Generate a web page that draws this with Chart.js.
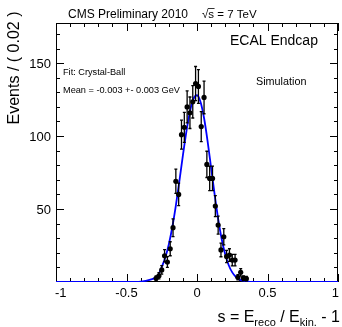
<!DOCTYPE html>
<html>
<head>
<meta charset="utf-8">
<script src="https://cdn.jsdelivr.net/npm/chart.js@4.4.1/dist/chart.umd.min.js"></script>
<style>
  html, body { margin: 0; padding: 0; background: #fff; }
  canvas { display: block; }
</style>
</head>
<body>
<canvas id="chart" width="342" height="327"></canvas>
<script>
// bin centres (bin width 0.02) and events per bin
var binCenters = [-0.29, -0.27, -0.25, -0.23, -0.21, -0.19, -0.17, -0.15, -0.13, -0.11,
                  -0.09, -0.07, -0.05, -0.03, -0.01, 0.01, 0.03, 0.05, 0.07, 0.09,
                  0.11, 0.13, 0.15, 0.17, 0.19, 0.21, 0.23, 0.25, 0.27, 0.29,
                  0.31, 0.33, 0.35];
var events = [2.5, 4.3, 8.3, 18, 13.7, 22.8, 37.2, 69, 60, 101,
              106, 120, 116, 123.5, 136, 134, 106.5, 126.5, 80.6, 71,
              71, 52, 39, 22, 31, 17.5, 18.5, 15, 15, 3.2,
              6.6, 2.6, 2.3];
var errors = [1.6, 2.1, 2.9, 4.2, 3.7, 4.8, 6.1, 8.3, 7.7, 10,
              10.3, 11, 10.8, 11.1, 11.7, 11.6, 10.3, 11.2, 9, 8.4,
              8.4, 7.2, 6.2, 4.7, 5.6, 4.2, 4.3, 3.9, 3.9, 1.8,
              2.6, 1.6, 1.5];

// crystal-ball fit curve, sampled by eye
var fitS = [-1, -0.5, -0.45, -0.425, -0.4, -0.375, -0.35, -0.325, -0.3, -0.275,
            -0.25, -0.225, -0.2, -0.175, -0.15, -0.125, -0.1, -0.075, -0.05, -0.025,
            0, 0.025, 0.05, 0.075, 0.1, 0.125, 0.15, 0.175, 0.2, 0.225,
            0.25, 0.275, 0.3, 0.325, 0.35, 0.375, 0.4, 0.45, 0.5, 1];
var fitV = [0, 0, 0, 0.1, 0.3, 0.6, 1.1, 1.8, 2.8, 5,
            10.3, 16.7, 25.8, 37.7, 52.4, 69.2, 86.8, 103.3, 116.8, 125.5,
            128, 123.4, 112.4, 96.6, 78.3, 60, 43.3, 29.5, 19, 11.5,
            6.6, 3.6, 1.8, 0.9, 0.4, 0.15, 0.05, 0, 0, 0];

var xTickLabels = ['-1', '-0.5', '0', '0.5', '1'];
var xTickValues = [-1, -0.5, 0, 0.5, 1];
var yTickLabels = ['50', '100', '150'];
var yTickValues = [50, 100, 150];

var FONT = '"Liberation Sans", Arial, Helvetica, sans-serif';

var rootStyle = {
  id: 'rootStyle',
  beforeDatasetsDraw: function(chart) {
    var ctx = chart.ctx, a = chart.chartArea;
    var xs = chart.scales.x, ys = chart.scales.y;
    ctx.save();
    ctx.strokeStyle = '#000';
    ctx.lineWidth = 1;
    ctx.strokeRect(a.left + 0.5, a.top + 0.5, a.right - a.left - 1, a.bottom - a.top - 1);
    ctx.beginPath();
    // x ticks every 0.1, long every 0.5, top and bottom, pointing inside
    for (var i = -10; i <= 10; i++) {
      var px = Math.round(xs.getPixelForValue(i / 10)) + 0.5;
      var len = (i % 5 === 0) ? 8 : 4;
      ctx.moveTo(px, a.bottom); ctx.lineTo(px, a.bottom - len);
      ctx.moveTo(px, a.top); ctx.lineTo(px, a.top + len);
    }
    // y ticks every 10, long every 50, left and right
    for (var v = 10; v < 178; v += 10) {
      var py = Math.round(ys.getPixelForValue(v)) + 0.5;
      var l = (v % 50 === 0) ? 8 : 4;
      ctx.moveTo(a.left, py); ctx.lineTo(a.left + l, py);
      ctx.moveTo(a.right, py); ctx.lineTo(a.right - l, py);
    }
    ctx.stroke();
    ctx.restore();
  },
  afterDatasetsDraw: function(chart) {
    var ctx = chart.ctx;
    var xs = chart.scales.x, ys = chart.scales.y;
    ctx.save();
    ctx.strokeStyle = '#000';
    ctx.lineWidth = 1.3;
    ctx.beginPath();
    for (var i = 0; i < binCenters.length; i++) {
      var px = xs.getPixelForValue(binCenters[i]);
      var hi = ys.getPixelForValue(events[i] + errors[i]);
      var lo = ys.getPixelForValue(Math.max(events[i] - errors[i], 0));
      ctx.moveTo(px, hi); ctx.lineTo(px, lo);
      ctx.moveTo(px - 1.5, hi); ctx.lineTo(px + 1.5, hi);
      ctx.moveTo(px - 1.5, lo); ctx.lineTo(px + 1.5, lo);
    }
    ctx.stroke();
    ctx.restore();
  },
  afterDraw: function(chart) {
    var ctx = chart.ctx, a = chart.chartArea;
    var xs = chart.scales.x, ys = chart.scales.y;
    ctx.save();
    ctx.fillStyle = '#000';
    ctx.strokeStyle = '#000';

    // tick labels
    ctx.font = '13px ' + FONT;
    ctx.textAlign = 'center';
    ctx.textBaseline = 'alphabetic';
    xTickValues.forEach(function(v, i) {
      var px = xs.getPixelForValue(v);
      var w = ctx.measureText(xTickLabels[i]).width;
      if (v === -1) px = a.left + w / 2 - 1;
      if (v === 1) px = a.right - w / 2 + 1;
      ctx.fillText(xTickLabels[i], px, 297);
    });
    ctx.textAlign = 'right';
    ctx.textBaseline = 'middle';
    yTickValues.forEach(function(v, i) {
      ctx.fillText(yTickLabels[i], 51, ys.getPixelForValue(v) + 1);
    });

    // y title
    ctx.save();
    ctx.translate(19, 68);
    ctx.rotate(-Math.PI / 2);
    ctx.font = '16px ' + FONT;
    ctx.textAlign = 'center';
    ctx.textBaseline = 'alphabetic';
    ctx.fillText('Events / ( 0.02 )', 0, 0);
    ctx.restore();

    // x title with subscripts, right aligned
    ctx.textBaseline = 'alphabetic';
    ctx.textAlign = 'left';
    var parts = [['s = E', 16, 0], ['reco', 11, 4], [' / E', 16, 0], ['kin.', 11, 4], [' - 1', 16, 0]];
    var total = 0;
    parts.forEach(function(p) { ctx.font = p[1] + 'px ' + FONT; total += ctx.measureText(p[0]).width; });
    var x = 340 - total, base = 322;
    parts.forEach(function(p) {
      ctx.font = p[1] + 'px ' + FONT;
      ctx.fillText(p[0], x, base + p[2]);
      x += ctx.measureText(p[0]).width;
    });

    // header
    ctx.font = '12px ' + FONT;
    ctx.fillText('CMS Preliminary 2010', 68, 18);
    ctx.font = '11.5px ' + FONT;
    ctx.fillText('\u221A', 202, 18);
    var rw = ctx.measureText('\u221A').width;
    ctx.fillText('s = 7 TeV', 202 + rw, 18);
    var sw = ctx.measureText('s').width;
    ctx.lineWidth = 0.8;
    ctx.beginPath();
    ctx.moveTo(202 + rw - 0.5, 8.5); ctx.lineTo(202 + rw + sw + 0.5, 8.5);
    ctx.stroke();

    ctx.font = '14px ' + FONT;
    ctx.fillText('ECAL Endcap', 230, 45);
    ctx.font = '9.2px ' + FONT;
    ctx.fillText('Fit: Crystal-Ball', 63, 75);
    ctx.fillText('Mean = -0.003 +- 0.003 GeV', 63, 92.5);
    ctx.font = '10.8px ' + FONT;
    ctx.fillText('Simulation', 256, 85);
    ctx.restore();
  }
};

var points = binCenters.map(function(s, i) { return { x: s, y: events[i] }; });
var curve = fitS.map(function(s, i) { return { x: s, y: fitV[i] }; });

new Chart(document.getElementById('chart'), {
  type: 'scatter',
  data: {
    datasets: [
      {
        label: 'Simulation',
        data: points,
        backgroundColor: '#000',
        borderColor: '#000',
        pointRadius: 2.6,
        pointBorderWidth: 0,
        order: 0
      },
      {
        type: 'line',
        label: 'Crystal-Ball fit',
        data: curve,
        borderColor: '#0000ff',
        borderWidth: 1.8,
        pointRadius: 0,
        fill: false,
        cubicInterpolationMode: 'monotone',
        order: 1
      }
    ]
  },
  options: {
    responsive: false,
    animation: false,
    devicePixelRatio: 1,
    layout: { padding: { left: 56, right: 2, top: 23, bottom: 45 } },
    plugins: { legend: { display: false }, tooltip: { enabled: false } },
    scales: {
      x: { type: 'linear', min: -1, max: 1, display: false },
      y: { type: 'linear', min: 0, max: 177.5, display: false }
    }
  },
  plugins: [rootStyle]
});
</script>
</body>
</html>
